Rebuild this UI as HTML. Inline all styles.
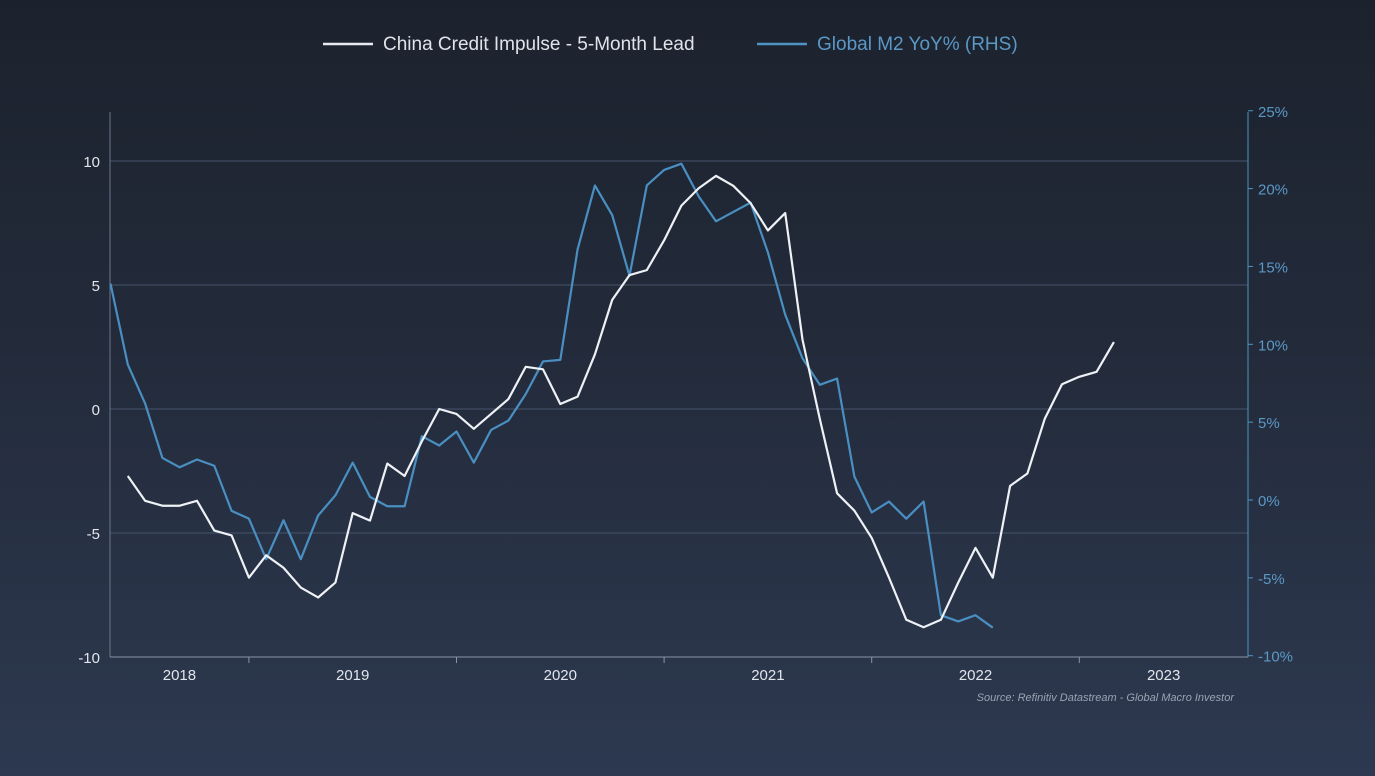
<!DOCTYPE html>
<html><head><meta charset="utf-8"><style>
html,body{margin:0;padding:0;width:1375px;height:776px;overflow:hidden;background:linear-gradient(180deg,#1c222d 0%,#232b3b 45%,#2d3950 100%);}
svg{position:absolute;left:0;top:0;font-family:"Liberation Sans",sans-serif;}
</style></head><body>
<svg id="chart" width="1375" height="776">
<g>
<line x1="323" y1="44" x2="373" y2="44" stroke="#e8ecf2" stroke-width="2.5"/>
<text x="383" y="50" fill="#dfe3ea" font-size="19">China Credit Impulse - 5-Month Lead</text>
<line x1="757" y1="44" x2="807" y2="44" stroke="#4f93c4" stroke-width="2.5"/>
<text x="817" y="50" fill="#5b98c6" font-size="19">Global M2 YoY% (RHS)</text>
</g>
<g id="grid"></g><g id="axes"></g><g id="series"></g>
<text x="1234" y="701" text-anchor="end" fill="#9aa3b2" font-size="11" font-style="italic">Source: Refinitiv Datastream - Global Macro Investor</text>
</svg>
<script>
const leftTicks=[10,5,0,-5,-10];
const rightTicks=[25,20,15,10,5,0,-5,-10];
const years=[2018,2019,2020,2021,2022,2023];
const chinaStart=5; // month index from Jan 2018
const china=[-2.7,-3.7,-3.9,-3.9,-3.7,-4.9,-5.1,-6.8,-5.9,-6.4,-7.2,-7.6,-7.0,-4.2,-4.5,-2.2,-2.7,-1.3,0,-0.2,-0.8,-0.2,0.4,1.7,1.6,0.2,0.5,2.2,4.4,5.4,5.6,6.8,8.2,8.9,9.4,9.0,8.3,7.2,7.9,2.8,-0.4,-3.4,-4.1,-5.2,-6.8,-8.5,-8.8,-8.5,-7.0,-5.6,-6.8,-3.1,-2.6,-0.4,1.0,1.3,1.5,2.7];
const m2Start=4;
const m2=[13.9,8.7,6.2,2.7,2.1,2.6,2.2,-0.7,-1.2,-3.8,-1.3,-3.8,-1.0,0.3,2.4,0.2,-0.4,-0.4,4.1,3.5,4.4,2.4,4.5,5.1,6.8,8.9,9.0,16.1,20.2,18.3,14.4,20.2,21.2,21.6,19.5,17.9,18.5,19.1,15.9,11.9,9.1,7.4,7.8,1.5,-0.8,-0.1,-1.2,-0.1,-7.4,-7.8,-7.4,-8.2];
const X0=110,X1=1248;
const xm=m=>41.3+m*17.3;
const yL=v=>409-v*24.8;
const yR=v=>500-v*15.57;
const NS="http://www.w3.org/2000/svg";
function mk(t,a,p){const e=document.createElementNS(NS,t);for(const k in a)e.setAttribute(k,a[k]);p.appendChild(e);return e;}
const grid=document.getElementById('grid'),axes=document.getElementById('axes'),series=document.getElementById('series');
leftTicks.forEach(v=>{
 if(v!==-10){const g=mk('line',{x1:X0,x2:X1,y1:yL(v),y2:yL(v),stroke:'#46546a','stroke-width':1},grid);
 
 }
 const t=mk('text',{x:100,y:yL(v)+6,'text-anchor':'end',fill:'#e2e6ec','font-size':15},axes);t.textContent=v;
 
 
});
rightTicks.forEach(v=>{
 const t=mk('text',{x:1258,y:yR(v)+6,fill:'#5b98c6','font-size':15},axes);t.textContent=v+'%';
 
 
 mk('line',{x1:X1,x2:X1+5,y1:yR(v),y2:yR(v),stroke:'#4f93c4'},axes);
});
const la=mk('line',{x1:X0,x2:X0,y1:112,y2:657,stroke:'#6a768a'},axes);


const ra=mk('line',{x1:X1,x2:X1,y1:112,y2:657,stroke:'#4f93c4'},axes);


const xa=mk('line',{x1:X0,x2:X1,y1:657,y2:657,stroke:'#8a94a6'},axes);


years.forEach((y,i)=>{
 const a=Math.max(xm(i*12),X0),b=Math.min(xm(i*12+12),X1);
 if(i>0&&xm(i*12)<X1)mk('line',{x1:xm(i*12),x2:xm(i*12),y1:657,y2:663,stroke:'#8a94a6'},axes);
 const t=mk('text',{x:(a+b)/2,y:680,'text-anchor':'middle',fill:'#e2e6ec','font-size':15},axes);t.textContent=y;
 
 
});
const m2p=mk('polyline',{points:m2.map((v,i)=>xm(m2Start+i)+','+yR(v)).join(' '),fill:'none',stroke:'#4a8fc2','stroke-width':2.2,'stroke-linejoin':'round'},series);


const cp=mk('polyline',{points:china.map((v,i)=>xm(chinaStart+i)+','+yL(v)).join(' '),fill:'none',stroke:'#eef1f5','stroke-width':2.2,'stroke-linejoin':'round'},series);


</script>
</body></html>
